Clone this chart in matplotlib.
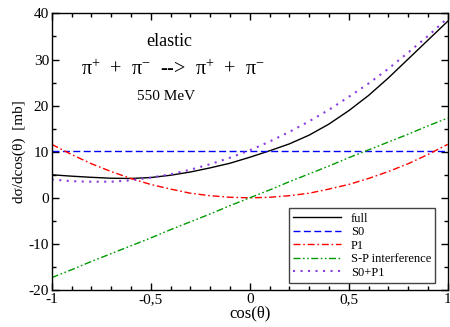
import matplotlib
matplotlib.use("Agg")
import matplotlib.pyplot as plt
from matplotlib.ticker import MultipleLocator

plt.rcParams['font.family'] = ['Liberation Serif', 'DejaVu Serif']
plt.rcParams['mathtext.fontset'] = 'custom'
plt.rcParams['mathtext.rm'] = 'Liberation Serif'

# cos(theta) grid and cross sections in mb
cos_theta = [-1.0, -0.9, -0.8, -0.7, -0.6, -0.5, -0.4, -0.3, -0.2, -0.1, 0.0,
             0.1, 0.2, 0.3, 0.4, 0.5, 0.6, 0.7, 0.8, 0.9, 1.0]
full = [5.0, 4.7, 4.45, 4.25, 4.2, 4.4, 4.9, 5.6, 6.5, 7.5, 8.8,
        10.2, 11.7, 13.6, 16.0, 18.9, 22.2, 26.0, 30.1, 34.2, 38.3]
s0 = [10.1] * len(cos_theta)
p1 = [11.6, 9.4, 7.4, 5.7, 4.2, 2.9, 1.9, 1.0, 0.46, 0.12, 0.0,
      0.12, 0.46, 1.0, 1.9, 2.9, 4.2, 5.7, 7.4, 9.4, 11.6]
sp_interf = [-17.3, -15.6, -13.8, -12.1, -10.4, -8.7, -6.9, -5.2, -3.5, -1.7, 0.0,
             1.7, 3.5, 5.2, 6.9, 8.7, 10.4, 12.1, 13.8, 15.6, 17.3]
s0_p1 = [4.0, 3.6, 3.5, 3.5, 3.8, 4.4, 5.1, 6.1, 7.3, 8.7, 10.3,
         12.2, 14.3, 16.6, 19.1, 21.9, 24.8, 28.0, 31.5, 35.1, 39.0]

xticks = [-1, -0.5, 0, 0.5, 1]
xticklabels = ['-1', '-0,5', '0', '0,5', '1']
yticks = [-20, -10, 0, 10, 20, 30, 40]
yticklabels = ['-20', '-10', '0', '10', '20', '30', '40']

fig = plt.figure(figsize=(4.5, 3.27), dpi=100)
ax = fig.add_axes([0.115, 0.113, 0.88, 0.846])

ax.plot(cos_theta, full, color='black', lw=1.0, label='full')
ax.plot(cos_theta, s0, color='#0000ff', lw=1.0, dashes=(5, 2.5), label='S0')
ax.plot(cos_theta, p1, color='#ff0000', lw=1.0, dashes=(5, 2, 1.2, 2), label='P1')
ax.plot(cos_theta, sp_interf, color='#009a00', lw=1.0,
        dashes=(5, 1.8, 1.2, 1.8, 1.2, 1.8), label='S-P interference')
ax.plot(cos_theta, s0_p1, color='#8a3ee0', lw=1.5, dashes=(1, 2.6),
        label='S0+P1')

ax.set_xlim(-1, 1)
ax.set_ylim(-20, 40)
ax.set_xticks(xticks)
ax.set_xticklabels(xticklabels)
ax.set_yticks(yticks)
ax.set_yticklabels(yticklabels)
ax.xaxis.set_minor_locator(MultipleLocator(0.1))
ax.yaxis.set_minor_locator(MultipleLocator(5))
ax.tick_params(which='both', direction='in', top=True, right=True,
               labelsize=11, width=1.0, pad=2)
ax.tick_params(which='major', length=5)
ax.tick_params(which='minor', length=3)
for sp in ax.spines.values():
    sp.set_linewidth(1.0)

ax.set_xlabel('cos(θ)', fontsize=12, labelpad=0)
ax.set_ylabel('dσ/dcos(θ)  [mb]', fontsize=11, labelpad=2)

ax.text(-0.408, 33.0, 'elastic', fontsize=13, ha='center', va='baseline')
ax.text(-0.39, 26.6, 'π$^{+}$  +  π$^{-}$  -->  π$^{+}$  +  π$^{-}$',
        fontsize=14.5, ha='center', va='baseline')
ax.text(-0.423, 21.2, '550 MeV', fontsize=11, ha='center', va='baseline')

leg = ax.legend(loc='lower left', bbox_to_anchor=(0.599, 0.025),
                fontsize=9, frameon=True, fancybox=False, framealpha=1,
                handlelength=3.8, handletextpad=0.8, labelspacing=0.12,
                borderpad=0.35, borderaxespad=0)
leg.get_frame().set_edgecolor('#444444')
leg.get_frame().set_linewidth(1.0)

fig.savefig('out.png', dpi=100)
